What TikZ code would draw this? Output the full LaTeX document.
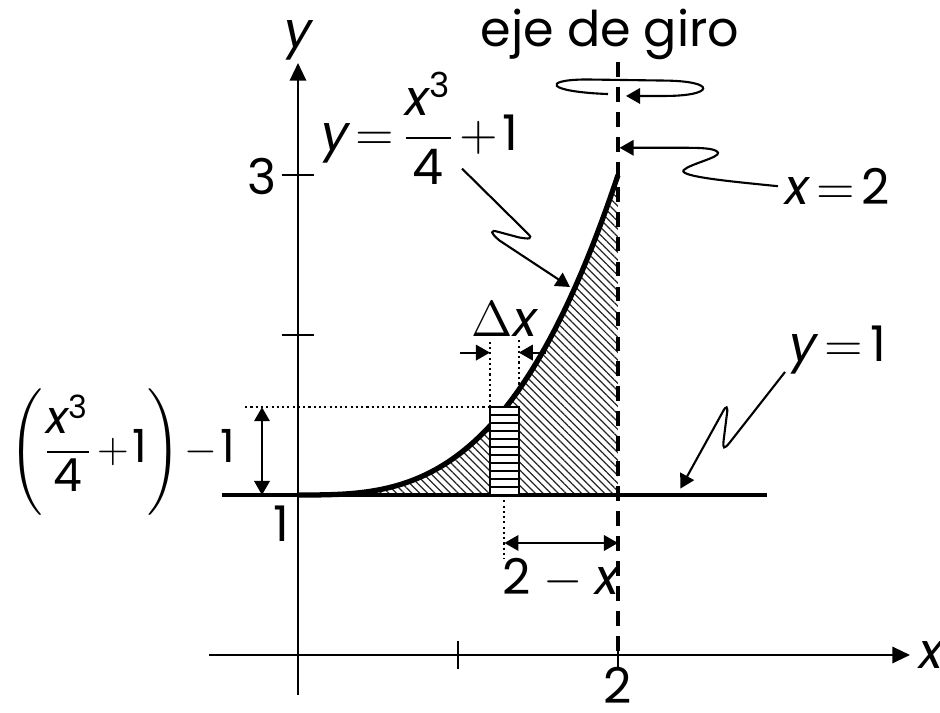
\documentclass[tikz,border=0pt]{standalone}
\usepackage{amsmath}
\usepackage{fontspec}
\setmainfont{Poppins}
\usepackage{tikz}
\usetikzlibrary{arrows.meta,patterns.meta}

\newcommand{\vx}{\text{\itshape x}}
\newcommand{\vy}{\text{\itshape y}}
\newcommand{\nm}[1]{\text{#1}}
\thickmuskip=2.5mu plus 1mu
\medmuskip=1.5mu plus 1mu

\begin{document}
\begin{tikzpicture}[x=1.6cm, y=1.6cm,
  every node/.style={font=\fontsize{14}{17}\selectfont, inner sep=1pt},
  thinline/.style={line width=0.6pt},
  axisline/.style={line width=0.7pt},
  baseline1/.style={line width=1pt},
  curveline/.style={line width=1.5pt},
  axisdash/.style={line width=1.3pt, dash pattern=on 4.2pt off 2.9pt},
  dotline/.style={line width=0.6pt, dash pattern=on 0.6pt off 0.9pt},
  tip/.style={-{Triangle[length=4pt,width=4.4pt]}},
  tips/.style={{Triangle[length=4pt,width=4.4pt]}-{Triangle[length=4pt,width=4.4pt]}}]
  \useasboundingbox (-1.8625,-0.3625) rectangle (4.0125,4.09375);
  \def\xa{1.2}
  \def\xb{1.38}
  \def\xm{1.29}
  \def\ytop{1.549}

  % hatched region under the curve
  \fill[pattern={Lines[angle=-45,distance=1.55pt,line width=0.35pt]}, pattern color=black!85]
    (0,1) -- plot[domain=0:2, samples=80] (\x, {\x*\x*\x/4+1}) -- (2,1) -- cycle;

  % axes
  \coordinate (xs) at (-0.556,0);
  \coordinate (xe) at (3.825,0);
  \coordinate (ys) at (0,-0.25);
  \coordinate (ye) at (0,3.7);
  \draw[axisline, -{Triangle[length=5pt,width=4.6pt]}] (xs) -- (xe);
  \draw[axisline, -{Triangle[length=5pt,width=4.6pt]}] (ys) -- (ye);
  \foreach \t in {1,2}
    \draw[axisline] (\t,0.09) -- (\t,-0.09);
  \foreach \t in {2,3}
    \draw[axisline] (-0.1,\t) -- (0.1,\t);

  % y = 1 and the curve
  \coordinate (ls) at (-0.475,1);
  \coordinate (le) at (2.93,1);
  \draw[baseline1] (ls) -- (le);
  \draw[curveline] plot[domain=0:2, samples=80] (\x, {\x*\x*\x/4+1});

  % strip
  \fill[white] (\xa,1) rectangle (\xb,\ytop);
  \foreach \k in {1,...,10}
    \draw[thinline] (\xa,{1+\k*0.05}) -- (\xb,{1+\k*0.05});
  \draw[thinline] (\xa,1) rectangle (\xb,\ytop);

  % axis of rotation
  \coordinate (gtop) at (2,3.706);
  \coordinate (gbot) at (2,0);
  \draw[axisdash] (gtop) -- (gbot);

  % dotted guides
  \draw[dotline] (-0.33,\ytop) -- (\xa,\ytop);
  \draw[dotline] (\xa,\ytop) -- (\xa,1.97);
  \draw[dotline] (\xb,{\xb*\xb*\xb/4+1}) -- (\xb,1.97);
  \draw[dotline] (\xm,1) -- (\xm,0.6);

  % dimension arrows
  \draw[thinline, tips] (-0.225,\ytop) -- (-0.225,1);
  \draw[thinline, tips] (\xm,0.7) -- (2,0.7);
  \draw[thinline, tip] (1.012,1.89) -- (\xa,1.89);
  \draw[thinline, tip] (1.55,1.89) -- (\xb,1.89);

  % labels
  \node (eje) at (1.95,3.88) {eje de giro};
  \node (ylab) at (0,3.84) {$\vy$};
  \node (xlab) at (3.96,0) {$\vx$};
  \node (tres) at (-0.225,2.99) {3};
  \node (uno) at (-0.106,0.82) {1};
  \node[inner sep=0pt] (dos) at (2,-0.19) {2};
  \node (curvelab) at (0.76,3.29) {$\displaystyle \vy = \frac{\vx^{\nm{3}}}{\nm{4}} + \nm{1}$};
  \node (xeq) at (3.375,2.93) {$\vx = \nm{2}$};
  \node (yeq) at (3.375,1.906) {$\vy = \nm{1}$};
  \node (dx) at (1.29,2.1) {$\Delta\vx$};
  \node (twox) at (1.64,0.48) {$\nm{2} \mathbin{\,-\,} \vx$};
  \node[font=\fontsize{13}{16}\selectfont] (height) at (-1.1,1.27)
    {$\displaystyle \left(\frac{\vx^{\nm{3}}}{\nm{4}} + \nm{1}\right) - \nm{1}$};

  % wavy pointers
  \draw[thinline, tip] (1.9375,3.506) .. controls (1.55,3.52) and (1.52,3.595) .. (1.8,3.597)
    -- (2.3,3.59) .. controls (2.62,3.585) and (2.6,3.495) .. (2.3,3.494) -- (2.05,3.494);
  \draw[thinline, tip] (3.0,2.93) .. controls (2.7,2.96) and (2.38,2.99) .. (2.41,3.03)
    .. controls (2.45,3.07) and (2.64,3.11) .. (2.625,3.14)
    .. controls (2.61,3.17) and (2.5,3.17) .. (2.4,3.17) -- (2.01,3.17);
  \draw[thinline, tip] (1.025,3.04) -- (1.43,2.64) .. controls (1.48,2.595) and (1.44,2.6) .. (1.38,2.61)
    -- (1.25,2.645) .. controls (1.2,2.66) and (1.2,2.64) .. (1.26,2.59) -- (1.70,2.30);
  \draw[thinline, tip] (3.044,1.769) -- (2.70,1.33) .. controls (2.66,1.28) and (2.655,1.29) .. (2.66,1.34)
    -- (2.68,1.50) .. controls (2.69,1.56) and (2.675,1.56) .. (2.655,1.52) -- (2.39,1.04);
\end{tikzpicture}
\end{document}
